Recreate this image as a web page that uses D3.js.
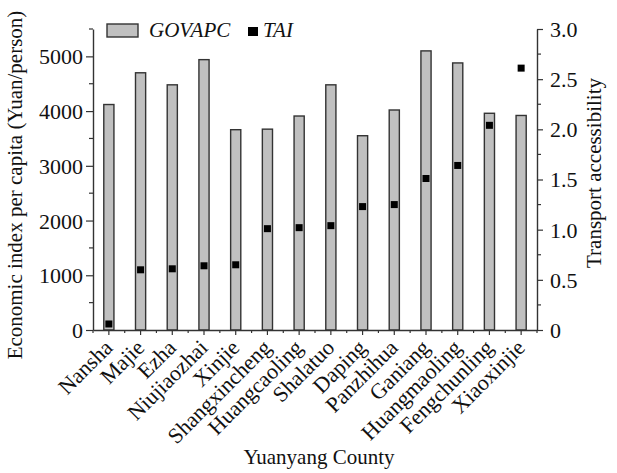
<!DOCTYPE html>
<html>
<head>
<meta charset="utf-8">
<script src="https://cdn.jsdelivr.net/npm/d3@7"></script>
<style>
  html, body { margin: 0; padding: 0; background: #fff; }
  svg { display: block; }
  text { font-family: "Liberation Serif", "Times New Roman", serif; fill: #111; }
</style>
</head>
<body>
<svg id="chart" width="617" height="473"></svg>
<script>
// Towns of Yuanyang County
const towns = ["Nansha", "Majie", "Ezha", "Niujiaozhai", "Xinjie", "Shangxincheng",
  "Huangcaoling", "Shalatuo", "Daping", "Panzhihua", "Ganiang", "Huangmaoling",
  "Fengchunling", "Xiaoxinjie"];
// GOVAPC: economic index per capita (Yuan/person)
const govapc = [4120, 4700, 4480, 4940, 3660, 3670, 3910, 4480, 3550, 4020, 5100, 4880, 3960, 3920];
// TAI: transport accessibility index
const tai = [0.06, 0.60, 0.61, 0.64, 0.65, 1.01, 1.02, 1.04, 1.23, 1.25, 1.51, 1.64, 2.04, 2.61];
// Axis ticks
const leftTicks = [0, 1000, 2000, 3000, 4000, 5000];
const leftMinor = [500, 1500, 2500, 3500, 4500, 5500];
const rightTicks = [0, 0.5, 1.0, 1.5, 2.0, 2.5, 3.0];
const rightMinor = [0.25, 0.75, 1.25, 1.75, 2.25, 2.75];

const svg = d3.select("#chart");
const plot = { left: 93, right: 537, top: 29, bottom: 330 };
const axisColor = "#333";
const tickFont = 22;
const titleFont = 21;

const x = d3.scaleBand().domain(towns).range([plot.left, plot.right]).padding(0);
const yL = d3.scaleLinear().domain([0, 5500]).range([plot.bottom, plot.top]);
const yR = d3.scaleLinear().domain([0, 3]).range([plot.bottom, plot.top]);
const barW = x.bandwidth() * 0.32;

// Bars
svg.append("g").selectAll("rect").data(towns).join("rect")
  .attr("x", (d) => x(d) + x.bandwidth() / 2 - barW / 2)
  .attr("y", (d, i) => yL(govapc[i]))
  .attr("width", barW)
  .attr("height", (d, i) => yL(0) - yL(govapc[i]))
  .attr("fill", "#c0c0c0")
  .attr("stroke", axisColor)
  .attr("stroke-width", 1.4);

// TAI markers
const mk = 7;
svg.append("g").selectAll("rect").data(towns).join("rect")
  .attr("x", (d) => x(d) + x.bandwidth() / 2 - mk / 2)
  .attr("y", (d, i) => yR(tai[i]) - mk / 2)
  .attr("width", mk).attr("height", mk)
  .attr("fill", "#000");

function styleAxis(g) {
  g.selectAll("path.domain").attr("stroke", axisColor).attr("stroke-width", 1.4);
  g.selectAll(".tick line").attr("stroke", axisColor).attr("stroke-width", 1.2);
  g.selectAll(".tick text").attr("font-size", tickFont).attr("font-family", "Liberation Serif").attr("fill", "#111");
}

// Left axis
const gL = svg.append("g").attr("transform", `translate(${plot.left},0)`)
  .call(d3.axisLeft(yL).tickValues(leftTicks).tickSize(7).tickPadding(3).tickSizeOuter(0).tickFormat(d3.format("d")));
styleAxis(gL);
gL.selectAll(".tick text").attr("dy", "0.34em");
gL.append("g").selectAll("line").data(leftMinor).join("line")
  .attr("x1", 0).attr("x2", -4).attr("y1", (d) => yL(d)).attr("y2", (d) => yL(d))
  .attr("stroke", axisColor).attr("stroke-width", 1.2);

// Right axis
const gR = svg.append("g").attr("transform", `translate(${plot.right},0)`)
  .call(d3.axisRight(yR).tickValues(rightTicks).tickSize(6).tickPadding(7).tickSizeOuter(0)
    .tickFormat((d) => d === 0 ? "0" : d.toFixed(1)));
styleAxis(gR);
gR.selectAll(".tick text").attr("dy", "0.34em");
gR.append("g").selectAll("line").data(rightMinor).join("line")
  .attr("x1", 0).attr("x2", 4).attr("y1", (d) => yR(d)).attr("y2", (d) => yR(d))
  .attr("stroke", axisColor).attr("stroke-width", 1.2);

// Bottom axis: major ticks at town centres, minor ticks at band edges
const gB = svg.append("g").attr("transform", `translate(0,${plot.bottom})`)
  .call(d3.axisBottom(x).tickSize(5).tickSizeOuter(0).tickFormat(""));
styleAxis(gB);
const bounds = towns.map((d) => x(d)).concat([plot.right]);
gB.append("g").selectAll("line").data(bounds).join("line")
  .attr("x1", (d) => d).attr("x2", (d) => d).attr("y1", 0).attr("y2", 3)
  .attr("stroke", axisColor).attr("stroke-width", 1.2);

// Rotated town labels
svg.append("g").selectAll("text").data(towns).join("text")
  .attr("transform", (d) => `translate(${x(d) + x.bandwidth() / 2 + 5},${plot.bottom + 19}) rotate(-45)`)
  .attr("text-anchor", "end")
  .attr("font-size", tickFont)
  .text((d) => d);

// Axis titles
svg.append("text")
  .attr("transform", `translate(22,185) rotate(-90)`)
  .attr("text-anchor", "middle")
  .attr("font-size", titleFont)
  .text("Economic index per capita (Yuan/person)");

svg.append("text")
  .attr("transform", `translate(601,173) rotate(-90)`)
  .attr("text-anchor", "middle")
  .attr("font-size", titleFont)
  .text("Transport accessibility");

svg.append("text")
  .attr("x", 319).attr("y", 464)
  .attr("text-anchor", "middle")
  .attr("font-size", titleFont)
  .text("Yuanyang County");

// Legend
const lg = svg.append("g");
lg.append("rect").attr("x", 107).attr("y", 24).attr("width", 31).attr("height", 13)
  .attr("fill", "#c0c0c0").attr("stroke", axisColor).attr("stroke-width", 1.4);
lg.append("text").attr("x", 149).attr("y", 37).attr("font-size", titleFont).attr("font-style", "italic").text("GOVAPC");
lg.append("rect").attr("x", 248).attr("y", 27).attr("width", 10).attr("height", 9).attr("fill", "#000");
lg.append("text").attr("x", 263).attr("y", 37).attr("font-size", titleFont).attr("font-style", "italic").text("TAI");
</script>
</body>
</html>
